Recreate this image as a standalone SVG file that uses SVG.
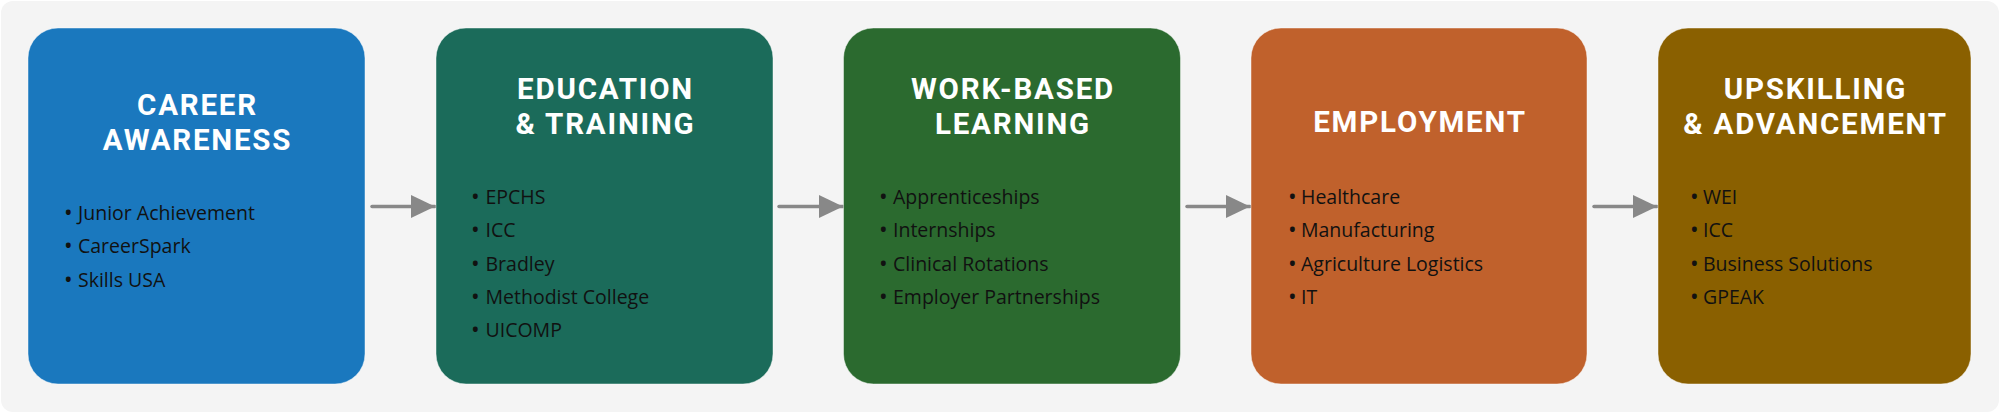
<svg xmlns="http://www.w3.org/2000/svg" width="2000" height="413" viewBox="0 0 2000 413">
<style>
.box{stroke:#ffffff;stroke-opacity:0.45;stroke-width:1}
.title{font-family:Roboto,"Open Sans","Liberation Sans",sans-serif;font-weight:700;font-size:29.5px;letter-spacing:1.8px;fill:#ffffff;text-anchor:middle}
.item{font-family:"Open Sans","Noto Sans","Liberation Sans",sans-serif;font-size:19.5px;fill:#111111}
.b{font-size:23px}
.conn{stroke:#888888;stroke-width:3.5;stroke-linecap:round;fill:none}
</style>
<defs>
<marker id="ah" viewBox="0 0 24 23" refX="24" refY="11.5" markerWidth="24" markerHeight="23" markerUnits="userSpaceOnUse" orient="auto">
<path d="M0,0 L24,11.5 L0,23 Z" fill="#888888"/>
</marker>
</defs>
<rect x="1" y="1" width="1998" height="411" rx="12" fill="#f4f4f4"/>
<g id="connectors">
<line class="conn" x1="372" y1="206.5" x2="435" y2="206.5" marker-end="url(#ah)"/>
<line class="conn" x1="779" y1="206.5" x2="843" y2="206.5" marker-end="url(#ah)"/>
<line class="conn" x1="1187" y1="206.5" x2="1250" y2="206.5" marker-end="url(#ah)"/>
<line class="conn" x1="1594" y1="206.5" x2="1657" y2="206.5" marker-end="url(#ah)"/>
</g>
<g id="career-awareness">
<rect class="box" x="28" y="28" width="337" height="356" rx="30" fill="#1a78be"/>
<text class="title"><tspan x="197.5" y="115">CAREER</tspan><tspan x="197.5" y="150">AWARENESS</tspan></text>
<text class="item"><tspan class="b" x="64" y="221">•</tspan><tspan x="78" y="220">Junior Achievement</tspan></text>
<text class="item"><tspan class="b" x="64" y="254">•</tspan><tspan x="78" y="253">CareerSpark</tspan></text>
<text class="item"><tspan class="b" x="64" y="288">•</tspan><tspan x="78" y="287">Skills USA</tspan></text>
</g>
<g id="education-training">
<rect class="box" x="436" y="28" width="337" height="356" rx="30" fill="#1b6b5a"/>
<text class="title"><tspan x="605.5" y="99">EDUCATION</tspan><tspan x="605.5" y="134">&amp; TRAINING</tspan></text>
<text class="item"><tspan class="b" x="471" y="205">•</tspan><tspan x="485.5" y="204">EPCHS</tspan></text>
<text class="item"><tspan class="b" x="471" y="238">•</tspan><tspan x="485.5" y="237">ICC</tspan></text>
<text class="item"><tspan class="b" x="471" y="271.5">•</tspan><tspan x="485.5" y="270.5">Bradley</tspan></text>
<text class="item"><tspan class="b" x="471" y="305">•</tspan><tspan x="485.5" y="304">Methodist College</tspan></text>
<text class="item"><tspan class="b" x="471" y="338">•</tspan><tspan x="485.5" y="337">UICOMP</tspan></text>
</g>
<g id="work-based-learning">
<rect class="box" x="843.5" y="28" width="337" height="356" rx="30" fill="#2b6a2f"/>
<text class="title"><tspan x="1013" y="99">WORK-BASED</tspan><tspan x="1013" y="134">LEARNING</tspan></text>
<text class="item"><tspan class="b" x="879" y="205">•</tspan><tspan x="893" y="204">Apprenticeships</tspan></text>
<text class="item"><tspan class="b" x="879" y="238">•</tspan><tspan x="893" y="237">Internships</tspan></text>
<text class="item"><tspan class="b" x="879" y="271.5">•</tspan><tspan x="893" y="270.5">Clinical Rotations</tspan></text>
<text class="item"><tspan class="b" x="879" y="305">•</tspan><tspan x="893" y="304">Employer Partnerships</tspan></text>
</g>
<g id="employment">
<rect class="box" x="1251" y="28" width="336" height="356" rx="30" fill="#c0612c"/>
<text class="title" x="1420" y="132">EMPLOYMENT</text>
<text class="item"><tspan class="b" x="1288" y="205">•</tspan><tspan x="1301" y="204">Healthcare</tspan></text>
<text class="item"><tspan class="b" x="1288" y="238">•</tspan><tspan x="1301" y="237">Manufacturing</tspan></text>
<text class="item"><tspan class="b" x="1288" y="271.5">•</tspan><tspan x="1301" y="270.5">Agriculture Logistics</tspan></text>
<text class="item"><tspan class="b" x="1288" y="305">•</tspan><tspan x="1301" y="304">IT</tspan></text>
</g>
<g id="upskilling-advancement">
<rect class="box" x="1658" y="28" width="313" height="356" rx="30" fill="#8a6000"/>
<text class="title"><tspan x="1815.5" y="99">UPSKILLING</tspan><tspan x="1815.5" y="134">&amp; ADVANCEMENT</tspan></text>
<text class="item"><tspan class="b" x="1690" y="205">•</tspan><tspan x="1703" y="204">WEI</tspan></text>
<text class="item"><tspan class="b" x="1690" y="238">•</tspan><tspan x="1703" y="237">ICC</tspan></text>
<text class="item"><tspan class="b" x="1690" y="271.5">•</tspan><tspan x="1703" y="270.5">Business Solutions</tspan></text>
<text class="item"><tspan class="b" x="1690" y="305">•</tspan><tspan x="1703" y="304">GPEAK</tspan></text>
</g>
</svg>
